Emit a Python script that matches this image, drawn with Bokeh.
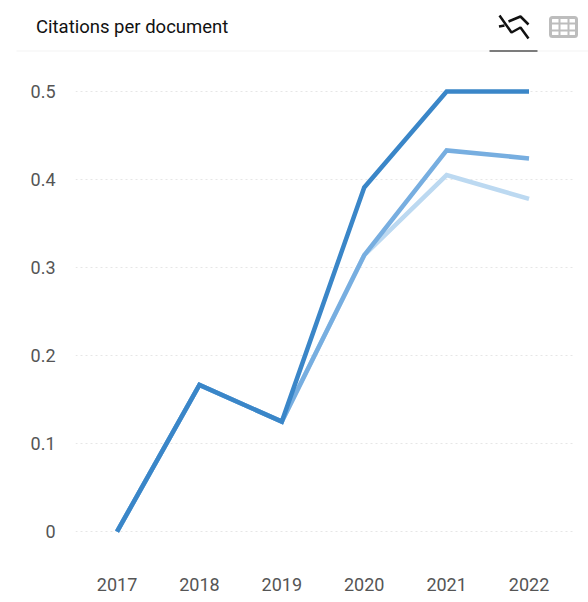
from bokeh.plotting import figure
from bokeh.layouts import column, row
from bokeh.models import Range1d, FixedTicker
from bokeh.core.properties import value
from bokeh.embed import file_html
from bokeh.resources import INLINE

years = [2017, 2018, 2019, 2020, 2021, 2022]
series_light = [0, 0.1667, 0.125, 0.314, 0.405, 0.378]
series_medium = [0, 0.1667, 0.125, 0.314, 0.433, 0.424]
series_dark = [0, 0.1667, 0.125, 0.391, 0.5, 0.5]
y_ticks = [0, 0.1, 0.2, 0.3, 0.4, 0.5]
y_labels = {0: "0", 0.1: "0.1", 0.2: "0.2", 0.3: "0.3", 0.4: "0.4", 0.5: "0.5"}
title_text = "Citations per document"

FONT = "Roboto"

# Header strip: ranges are page pixels
h = figure(width=588, height=52, output_backend="svg", toolbar_location=None,
           x_range=Range1d(0, 588), y_range=Range1d(52, 0),
           min_border=0, min_border_left=0, min_border_right=0, min_border_top=0, min_border_bottom=0)
h.axis.visible = False
h.grid.visible = False
h.outline_line_color = None
h.background_fill_color = None
h.border_fill_color = None

h.text(x=[35.5], y=[26], text=[title_text], text_font=value(FONT), text_font_size="18.5px",
       text_color="#111111", text_baseline="middle", text_align="left")
h.segment(x0=[16], y0=[50.5], x1=[588], y1=[50.5], line_color="#f3f3f3", line_width=1)
h.segment(x0=[489], y0=[50.5], x1=[537], y1=[50.5], line_color="#000000", line_width=1.2)
h.multi_line(xs=[[499, 511, 520, 528], [498.5, 504], [508, 520, 528]],
             ys=[[15, 32, 27, 38], [26, 25], [21, 16, 24]],
             line_color="#111111", line_width=2.5)
h.quad(left=[550], right=[576], top=[17], bottom=[36], fill_color="#ffffff",
       line_color="#bdbdbd", line_width=3, border_radius=2)
h.multi_line(xs=[[550, 576], [550, 576], [559, 559], [568, 568]],
             ys=[[23, 23], [30, 30], [17, 36], [17, 36]],
             line_color="#bdbdbd", line_width=2)

# Chart
p = figure(width=588, height=550, output_backend="svg", toolbar_location=None,
           x_range=Range1d(2016.496, 2022.564), y_range=Range1d(-0.0328, 0.5443),
           min_border_left=75, min_border_right=13, min_border_top=0, min_border_bottom=42)
p.outline_line_color = None
p.xgrid.visible = False
p.ygrid.ticker = FixedTicker(ticks=y_ticks)
p.ygrid.grid_line_color = "#e6e6e6"
p.ygrid.grid_line_dash = "2 3"
p.ygrid.grid_line_width = 1

p.xaxis.ticker = FixedTicker(ticks=years)
p.yaxis.ticker = FixedTicker(ticks=y_ticks)
p.yaxis.major_label_overrides = y_labels
for ax in (p.xaxis, p.yaxis):
    ax.axis_line_color = None
    ax.major_tick_line_color = None
    ax.minor_tick_line_color = None
    ax.major_label_text_font = FONT
    ax.major_label_text_font_size = "18px"
    ax.major_label_text_color = "#555555"
p.xaxis.major_label_standoff = 11
p.yaxis.major_label_standoff = 14

p.line(years, series_light, line_color="#bcd9f1", line_width=4.5, line_join="miter")
p.line(years, series_medium, line_color="#77aee0", line_width=4.5, line_join="miter")
p.line(years, series_dark, line_color="#3a86c8", line_width=4.5, line_join="miter")

page = column(row(h), p, spacing=0)
open("out.html", "w").write(file_html(page, INLINE))
